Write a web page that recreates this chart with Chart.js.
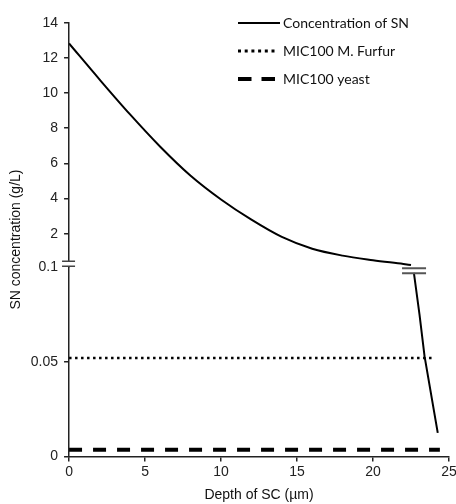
<!DOCTYPE html>
<html>
<head>
<meta charset="utf-8">
<script src="https://cdn.jsdelivr.net/npm/chart.js@4.4.1/dist/chart.umd.min.js"></script>
<style>
  html, body { margin: 0; padding: 0; background: #fff; }
  #wrap { width: 456px; height: 504px; }
</style>
</head>
<body>
<div id="wrap"><canvas id="chart"></canvas></div>
<script>
// upper part of the profile (broken axis, 0.1 .. 14 g/L)
const depthUpper = [0, 2, 4, 6, 8, 10, 12, 14, 16, 18, 20, 22, 22.5];
const concUpper = [12.82, 10.78, 8.8, 6.95, 5.3, 3.95, 2.8, 1.82, 1.15, 0.76, 0.5, 0.28, 0.22];
// lower part (0 .. 0.1 g/L)
const depthLower = [22.69, 23.06, 23.39, 24.26];
const concLower = [0.097, 0.075, 0.053, 0.0124];
// MIC reference lines
const furfurDepth = [0, 23.9];
const furfurConc = [0.052, 0.052];
const yeastDepth = [0, 24.4];
const yeastConc = [0.0035, 0.0035];
const breakDepth = 22.7;

const seriesNames = ['Concentration of SN', 'MIC100 M. Furfur', 'MIC100 yeast'];
const xTicks = [0, 5, 10, 15, 20, 25];
const upperTicks = [2, 4, 6, 8, 10, 12, 14];
const lowerTicks = [0, 0.05, 0.1];

const axisFont = { family: "'Liberation Sans', Arial, sans-serif", size: 14 };
const toPoints = (xs, ys) => xs.map((x, i) => ({ x: x, y: ys[i] }));

// small line pictures for the legend (dash styles)
function lineSample(len, width, dash) {
  const c = document.createElement('canvas');
  c.width = 42;
  c.height = 8;
  const g = c.getContext('2d');
  g.strokeStyle = '#000';
  g.lineWidth = width;
  g.setLineDash(dash);
  g.beginPath();
  g.moveTo(0, 4);
  g.lineTo(len, 4);
  g.stroke();
  return c;
}
const legendSamples = {
  0: lineSample(42, 2, []),
  2: lineSample(37, 3, [3, 3.7]),
  3: lineSample(37, 4, [13.5, 10])
};

const breakMarks = {
  id: 'breakMarks',
  afterDatasetsDraw(chart) {
    const ctx = chart.ctx;
    const b = chart.scales.yLow.top;
    const ax = chart.chartArea.left;
    const cx = chart.scales.x.getPixelForValue(breakDepth);
    ctx.save();
    ctx.fillStyle = '#fff';
    ctx.fillRect(ax - 2, b - 6, 4, 5);
    ctx.strokeStyle = '#444';
    ctx.lineWidth = 1.5;
    ctx.beginPath();
    [b - 6, b - 1].forEach(y => { ctx.moveTo(ax - 7, y); ctx.lineTo(ax + 6, y); });
    ctx.stroke();
    ctx.strokeStyle = '#555';
    ctx.lineWidth = 2;
    ctx.beginPath();
    [b + 1, b + 6].forEach(y => { ctx.moveTo(cx - 12, y); ctx.lineTo(cx + 12, y); });
    ctx.stroke();
    ctx.restore();
  }
};

// put the legend in the upper right corner, over the plot
const legendSpot = {
  id: 'legendSpot',
  afterLayout(chart) {
    const lg = chart.legend;
    lg.left = 228;
    lg.right = 456;
    lg.top = 2;
    lg.bottom = 200;
  }
};

new Chart(document.getElementById('chart'), {
  type: 'line',
  data: {
    datasets: [
      {
        label: seriesNames[0],
        data: toPoints(depthUpper, concUpper),
        yAxisID: 'yUp',
        borderColor: '#000',
        borderWidth: 2,
        pointRadius: 0,
        cubicInterpolationMode: 'monotone'
      },
      {
        label: '',
        data: toPoints(depthLower, concLower),
        yAxisID: 'yLow',
        borderColor: '#000',
        borderWidth: 2,
        pointRadius: 0,
        tension: 0
      },
      {
        label: seriesNames[1],
        data: toPoints(furfurDepth, furfurConc),
        yAxisID: 'yLow',
        borderColor: '#000',
        borderWidth: 2.5,
        borderDash: [2.5, 3.5],
        pointRadius: 0
      },
      {
        label: seriesNames[2],
        data: toPoints(yeastDepth, yeastConc),
        yAxisID: 'yLow',
        borderColor: '#000',
        borderWidth: 4,
        borderDash: [13, 11],
        pointRadius: 0
      }
    ]
  },
  options: {
    responsive: true,
    maintainAspectRatio: false,
    animation: false,
    layout: { padding: { left: 0, right: 7, top: 22.7, bottom: 0 } },
    plugins: {
      tooltip: { enabled: false },
      legend: {
        position: 'chartArea',
        align: 'start',
        labels: {
          generateLabels: chart => Chart.defaults.plugins.legend.labels.generateLabels(chart)
            .filter(item => item.text !== '')
            .map(item => Object.assign(item, { pointStyle: legendSamples[item.datasetIndex] })),
          usePointStyle: true,
          pointStyleWidth: 34,
          padding: 14,
          color: '#111',
          font: { family: 'Lato, sans-serif', size: 14 }
        }
      }
    },
    scales: {
      x: {
        type: 'linear',
        min: 0,
        max: 25,
        afterBuildTicks: s => { s.ticks = xTicks.map(v => ({ value: v })); },
        afterFit: s => { s.paddingRight = 0; },
        grid: { drawOnChartArea: false, tickLength: 5, color: '#222', lineWidth: 1.5 },
        border: { color: '#222', width: 1.5 },
        ticks: { font: axisFont, color: '#222', padding: 2, maxRotation: 0 },
        title: { display: true, text: 'Depth of SC (µm)', font: axisFont, color: '#111', padding: { top: 5, bottom: 0 } }
      },
      yTitle: {
        type: 'linear',
        position: 'left',
        weight: 5,
        grid: { display: false, drawTicks: false },
        border: { display: false },
        ticks: { display: false },
        title: { display: true, text: 'SN concentration (g/L)', font: axisFont, color: '#111', padding: { top: 8, bottom: 0 } }
      },
      yLow: {
        type: 'linear',
        position: 'left',
        stack: 'conc',
        stackWeight: 188,
        min: 0,
        max: 0.1,
        afterBuildTicks: s => { s.ticks = lowerTicks.map(v => ({ value: v })); },
        grid: {
          drawOnChartArea: false,
          tickLength: 5,
          lineWidth: 1.5,
          color: c => (c.tick && c.tick.value === 0.1 ? 'rgba(0,0,0,0)' : '#222')
        },
        border: { color: '#222', width: 1.5 },
        ticks: { font: axisFont, color: '#222', padding: 6, callback: v => String(v) }
      },
      yUp: {
        type: 'linear',
        position: 'left',
        stack: 'conc',
        stackWeight: 243,
        min: 0.1,
        max: 14,
        afterBuildTicks: s => { s.ticks = upperTicks.map(v => ({ value: v })); },
        grid: { drawOnChartArea: false, tickLength: 5, color: '#222', lineWidth: 1.5 },
        border: { color: '#222', width: 1.5 },
        ticks: { font: axisFont, color: '#222', padding: 6, callback: v => String(v) }
      }
    }
  },
  plugins: [legendSpot, breakMarks]
});
</script>
</body>
</html>
